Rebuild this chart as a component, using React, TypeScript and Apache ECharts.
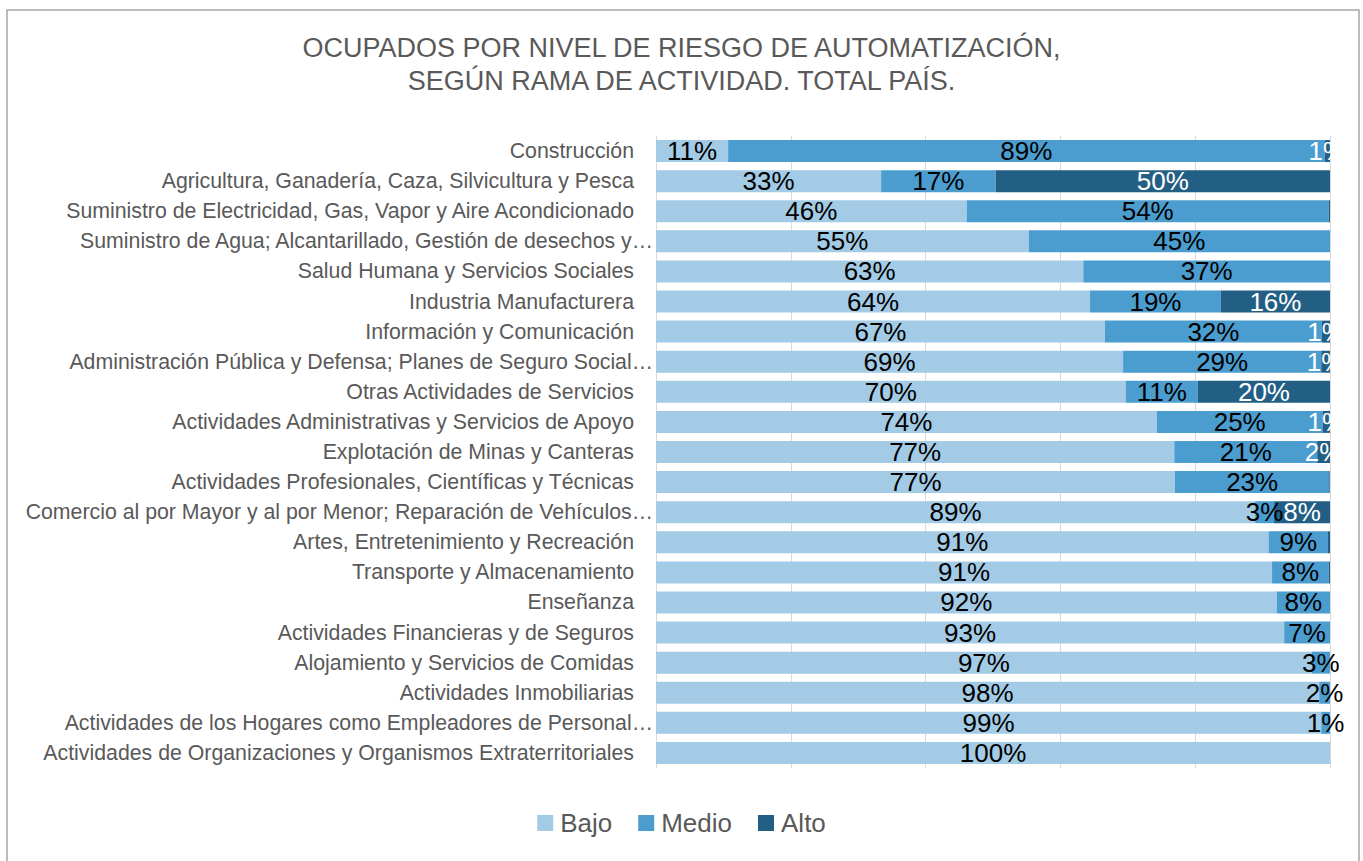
import React, { useEffect, useRef } from "react";
import * as echarts from "echarts";

const categories = [
  "Construcción",
  "Agricultura, Ganadería, Caza, Silvicultura y Pesca",
  "Suministro de Electricidad, Gas, Vapor y Aire Acondicionado",
  "Suministro de Agua; Alcantarillado, Gestión de desechos y…",
  "Salud Humana y Servicios Sociales",
  "Industria Manufacturera",
  "Información y Comunicación",
  "Administración Pública y Defensa; Planes de Seguro Social…",
  "Otras Actividades de Servicios",
  "Actividades Administrativas y Servicios de Apoyo",
  "Explotación de Minas y Canteras",
  "Actividades Profesionales, Científicas y Técnicas",
  "Comercio al por Mayor y al por Menor; Reparación de Vehículos…",
  "Artes, Entretenimiento y Recreación",
  "Transporte y Almacenamiento",
  "Enseñanza",
  "Actividades Financieras y de Seguros",
  "Alojamiento y Servicios de Comidas",
  "Actividades Inmobiliarias",
  "Actividades de los Hogares como Empleadores de Personal…",
  "Actividades de Organizaciones y Organismos Extraterritoriales",
];

const bajo = [10.7, 33.4, 46.1, 55.3, 63.4, 64.4, 66.6, 69.3, 69.7, 74.3, 76.9, 77.0, 88.9, 90.9, 91.4, 92.1, 93.2, 97.3, 98.4, 98.7, 100];
const medio = [88.5, 17.0, 53.7, 44.7, 36.6, 19.4, 32.2, 29.4, 10.7, 24.6, 21.2, 22.9, 2.8, 8.8, 8.4, 7.9, 6.8, 2.7, 1.6, 1.3, 0];
const alto = [0.8, 49.6, 0.2, 0, 0, 16.2, 1.2, 1.3, 19.6, 1.1, 1.9, 0.1, 8.3, 0.3, 0.2, 0, 0, 0, 0, 0, 0];

const xTicks = [0, 20, 40, 60, 80, 100];

const titleLines = [
  "OCUPADOS POR NIVEL DE RIESGO DE AUTOMATIZACIÓN,",
  "SEGÚN RAMA DE ACTIVIDAD. TOTAL PAÍS.",
];

const FONT = "'Liberation Sans', Arial, Helvetica, sans-serif";
const GREY = "#595959";

export default function App() {
  const ref = useRef<HTMLDivElement>(null);

  useEffect(() => {
    if (!ref.current) return;
    const chart = echarts.init(ref.current, undefined, { renderer: "svg" });

    const fmt = (p: any) => {
      const v = Math.round(p.value);
      return v > 0 ? v + "%" : "";
    };

    const mkSeries = (name: string, data: number[], color: string, labelColor: string) => ({
      name,
      type: "bar",
      stack: "total",
      data,
      barWidth: 22,
      itemStyle: { color },
      label: {
        show: true,
        position: "inside",
        formatter: fmt,
        color: labelColor,
        fontSize: 26,
        fontFamily: FONT,
      },
      emphasis: { disabled: true },
    });

    chart.setOption({
      animation: false,
      textStyle: { fontFamily: FONT },
      title: {
        text: titleLines.join("\n"),
        left: "center",
        top: 26,
        textStyle: {
          fontSize: 27,
          fontWeight: "normal",
          color: GREY,
          fontFamily: FONT,
          lineHeight: 33,
        },
      },
      graphic: [
        {
          type: "rect",
          shape: { x: 7, y: 10, width: 1352, height: 900 },
          style: { fill: "none", stroke: "#a6a6a6", lineWidth: 1.5 },
          silent: true,
          z: -1,
        },
      ],
      legend: {
        bottom: 20,
        left: "center",
        icon: "rect",
        itemWidth: 16,
        itemHeight: 16,
        itemGap: 26,
        textStyle: { fontSize: 26, color: GREY, fontFamily: FONT, padding: [0, 0, 0, 2] },
        data: ["Bajo", "Medio", "Alto"],
      },
      grid: { left: 656, right: 33, top: 136, bottom: 93, containLabel: false },
      xAxis: {
        type: "value",
        min: xTicks[0],
        max: xTicks[xTicks.length - 1],
        interval: 20,
        axisLabel: { show: false },
        axisLine: { show: false },
        axisTick: { show: false },
        splitLine: { show: true, lineStyle: { color: "#d9d9d9", width: 1 } },
      },
      yAxis: {
        type: "category",
        data: categories,
        inverse: true,
        axisLine: { show: false },
        axisTick: { show: false },
        axisLabel: {
          margin: 2,
          formatter: (v: string) => (v.endsWith("…") ? "{t|" + v + "}" : "{n|" + v + "}"),
          rich: {
            n: { fontSize: 21.3, color: GREY, fontFamily: FONT, padding: [0, 20, 0, 0] },
            t: { fontSize: 21.3, color: GREY, fontFamily: FONT, padding: [0, 1, 0, 0] },
          },
        },
      },
      series: [
        mkSeries("Bajo", bajo, "#a3cbe6", "#000000"),
        mkSeries("Medio", medio, "#4b9dcf", "#000000"),
        mkSeries("Alto", alto, "#235f85", "#ffffff"),
      ],
    });

    return () => chart.dispose();
  }, []);

  return (
    <div
      ref={ref}
      style={{ position: "absolute", left: 0, top: 0, width: 1363, height: 861, background: "#fff" }}
    />
  );
}
